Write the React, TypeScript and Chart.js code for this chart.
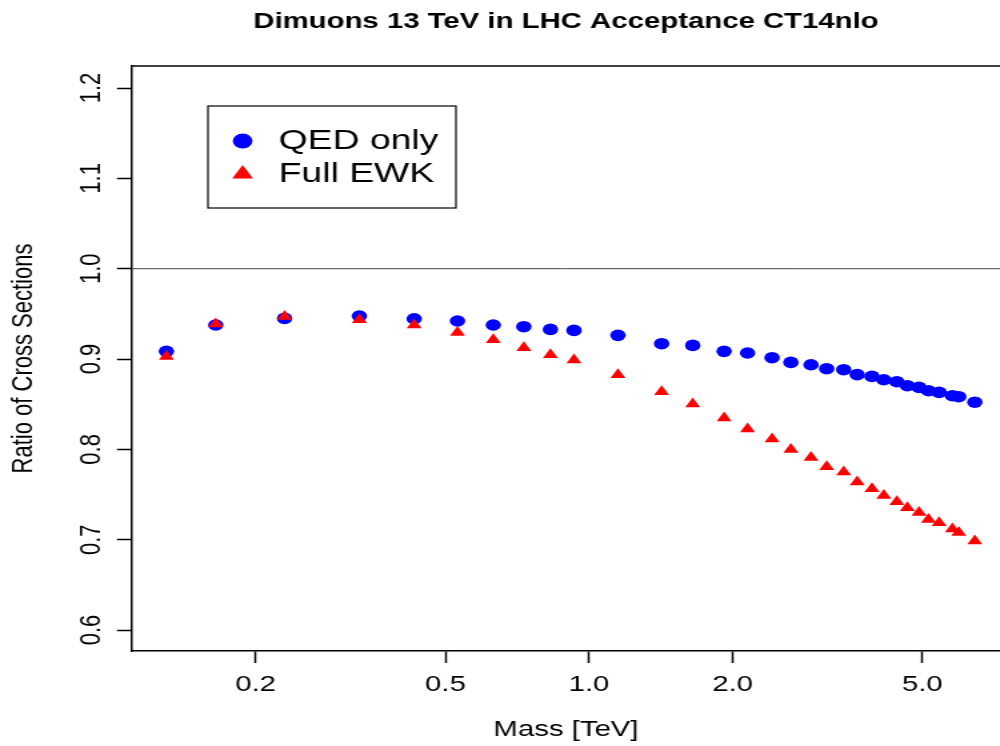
import React, { useEffect, useRef } from "react";
import { Chart, registerables } from "chart.js";

Chart.register(...registerables);

// ---------- data ----------
const chartTitle = "Dimuons 13 TeV in LHC Acceptance CT14nlo";
const xAxisTitle = "Mass [TeV]";
const yAxisTitle = "Ratio of Cross Sections";
const seriesNames = ["QED only", "Full EWK"];

const massTeV = [
  0.13, 0.165, 0.23, 0.33, 0.43, 0.53, 0.63, 0.73, 0.83, 0.93,
  1.15, 1.42, 1.65, 1.92, 2.15, 2.42, 2.65, 2.92, 3.15, 3.42,
  3.65, 3.92, 4.15, 4.42, 4.65, 4.92, 5.15, 5.42, 5.78, 5.96, 6.44,
];
const qedOnly = [
  0.9085, 0.9377, 0.945, 0.9476, 0.9446, 0.9421, 0.9377, 0.9358, 0.9328, 0.9317,
  0.9262, 0.917, 0.9151, 0.9085, 0.9067, 0.9015, 0.8963, 0.8937, 0.8893, 0.8882,
  0.8827, 0.8808, 0.8771, 0.8749, 0.8705, 0.8686, 0.8649, 0.8631, 0.8594, 0.8583, 0.8522,
];
const fullEWK = [
  0.9029, 0.9388, 0.9472, 0.9435, 0.9377, 0.9295, 0.9214, 0.9125, 0.9048, 0.8989,
  0.8827, 0.8638, 0.8502, 0.8347, 0.8225, 0.8115, 0.8, 0.7911, 0.7808, 0.7749,
  0.7639, 0.7564, 0.749, 0.742, 0.7354, 0.7302, 0.7225, 0.7188, 0.7118, 0.7081, 0.6986,
];
const xTickValues = [0.2, 0.5, 1, 2, 5];
const yTickValues = [0.6, 0.7, 0.8, 0.9, 1.0, 1.1, 1.2];
const referenceLevel = 1.0;
const xRange = [0.1101, 7.272];
const yRange = [0.5768, 1.2244];

// ---------- styling ----------
const FONT = "'Liberation Sans', Arial, Helvetica, sans-serif";
const BLUE = "#0000FF";
const RED = "#FF0000";
const INTERNAL_W = 750; // canvas drawn narrower, then stretched to 1000px wide
const H = 746;

const framePlugin = {
  id: "frameTop",
  afterDraw(chart: any) {
    const { ctx, chartArea } = chart;
    ctx.save();
    ctx.strokeStyle = "#000";
    ctx.lineWidth = 1.5;
    ctx.beginPath();
    ctx.moveTo(chartArea.left, chartArea.top);
    ctx.lineTo(chartArea.right + 5, chartArea.top);
    ctx.stroke();
    ctx.restore();
  },
};

const legendPlugin = {
  id: "boxLegend",
  afterDraw(chart: any) {
    const { ctx } = chart;
    const bx = 156, by = 106, bw = 186, bh = 102;
    ctx.save();
    ctx.fillStyle = "#fff";
    ctx.fillRect(bx, by, bw, bh);
    ctx.strokeStyle = "#000";
    ctx.lineWidth = 1.2;
    ctx.strokeRect(bx, by, bw, bh);
    const symX = 182;
    const rows = [141, 174];
    ctx.fillStyle = BLUE;
    ctx.beginPath();
    ctx.arc(symX, rows[0], 7.4, 0, Math.PI * 2);
    ctx.fill();
    const r = 9;
    ctx.fillStyle = RED;
    ctx.beginPath();
    for (let i = 0; i < 3; i++) {
      const a = (i * 2 * Math.PI) / 3;
      const px = symX + Math.sin(a) * r;
      const py = rows[1] - Math.cos(a) * r;
      if (i === 0) ctx.moveTo(px, py);
      else ctx.lineTo(px, py);
    }
    ctx.closePath();
    ctx.fill();
    ctx.fillStyle = "#000";
    ctx.font = `28px ${FONT}`;
    ctx.textAlign = "left";
    ctx.textBaseline = "middle";
    ctx.fillText(seriesNames[0], 209, rows[0]);
    ctx.fillText(seriesNames[1], 209, rows[1]);
    ctx.restore();
  },
};

export default function App() {
  const canvasRef = useRef<HTMLCanvasElement | null>(null);

  useEffect(() => {
    document.body.style.margin = "0";
    const canvas = canvasRef.current;
    if (!canvas) return;

    const chart = new Chart(canvas, {
      type: "scatter",
      data: {
        datasets: [
          {
            type: "line",
            label: "reference",
            data: [
              { x: xRange[0], y: referenceLevel },
              { x: xRange[1], y: referenceLevel },
            ],
            showLine: true,
            borderColor: "#444",
            borderWidth: 1,
            pointRadius: 0,
            order: 3,
          } as any,
          {
            label: seriesNames[0],
            data: massTeV.map((m, i) => ({ x: m, y: qedOnly[i] })),
            pointStyle: "circle",
            pointRadius: 5.8,
            backgroundColor: BLUE,
            borderColor: BLUE,
            borderWidth: 0,
            order: 2,
          },
          {
            label: seriesNames[1],
            data: massTeV.map((m, i) => ({ x: m, y: fullEWK[i] })),
            pointStyle: "triangle",
            pointRadius: 6.5,
            backgroundColor: RED,
            borderColor: RED,
            borderWidth: 0,
            order: 1,
          },
        ],
      },
      options: {
        responsive: false,
        devicePixelRatio: 1,
        animation: false,
        layout: { autoPadding: false, padding: { left: 0, right: 0, top: 0, bottom: 0 } },
        plugins: {
          legend: { display: false },
          tooltip: { enabled: false },
          title: {
            display: true,
            text: chartTitle,
            fullSize: false,
            color: "#000",
            font: { family: FONT, size: 22, weight: "bold" },
            padding: { top: 8.8, bottom: 30.8 },
          },
        },
        scales: {
          x: {
            type: "logarithmic",
            position: "bottom",
            min: xRange[0],
            max: xRange[1],
            afterBuildTicks: (scale: any) => {
              scale.ticks = xTickValues.map((v) => ({ value: v }));
            },
            afterFit: (scale: any) => {
              scale.height = 95;
              scale.paddingLeft = 0;
              scale.paddingRight = 0;
            },
            ticks: {
              autoSkip: false,
              minRotation: 0,
              maxRotation: 0,
              padding: 8.3,
              color: "#000",
              font: { family: FONT, size: 22 },
              callback: (v: any) => Number(v).toFixed(1),
            },
            grid: {
              display: true,
              drawOnChartArea: false,
              drawTicks: true,
              tickLength: 12,
              tickWidth: 1.5,
              tickColor: "#000",
              color: "#000",
            },
            border: { display: true, color: "#000", width: 1.5 },
            title: {
              display: true,
              text: xAxisTitle,
              color: "#000",
              font: { family: FONT, size: 22 },
              padding: { top: 0, bottom: 2.8 },
            },
          },
          y: {
            type: "linear",
            position: "left",
            min: yRange[0],
            max: yRange[1],
            afterBuildTicks: (scale: any) => {
              scale.ticks = yTickValues.map((v) => ({ value: v }));
            },
            afterFit: (scale: any) => {
              scale.width = 99;
              scale.paddingTop = 0;
              scale.paddingBottom = 0;
            },
            ticks: {
              minRotation: 90,
              maxRotation: 90,
              crossAlign: "center",
              padding: 3.45,
              color: "#000",
              font: { family: FONT, size: 22 },
              callback: (v: any) => Number(v).toFixed(1),
            },
            grid: {
              display: true,
              drawOnChartArea: false,
              drawTicks: true,
              tickLength: 11.25,
              tickWidth: 1.5,
              tickColor: "#000",
              color: "#000",
            },
            border: { display: true, color: "#000", width: 1.5 },
            title: {
              display: true,
              text: yAxisTitle,
              color: "#000",
              font: { family: FONT, size: 22 },
              padding: { top: 4.3, bottom: 0 },
            },
          },
        },
      } as any,
      plugins: [framePlugin, legendPlugin],
    });

    return () => {
      chart.destroy();
    };
  }, []);

  return (
    <div style={{ width: "1000px", height: `${H}px`, overflow: "hidden", background: "#fff" }}>
      <canvas
        ref={canvasRef}
        width={INTERNAL_W}
        height={H}
        style={{ width: "1000px", height: `${H}px`, display: "block" }}
      />
    </div>
  );
}
